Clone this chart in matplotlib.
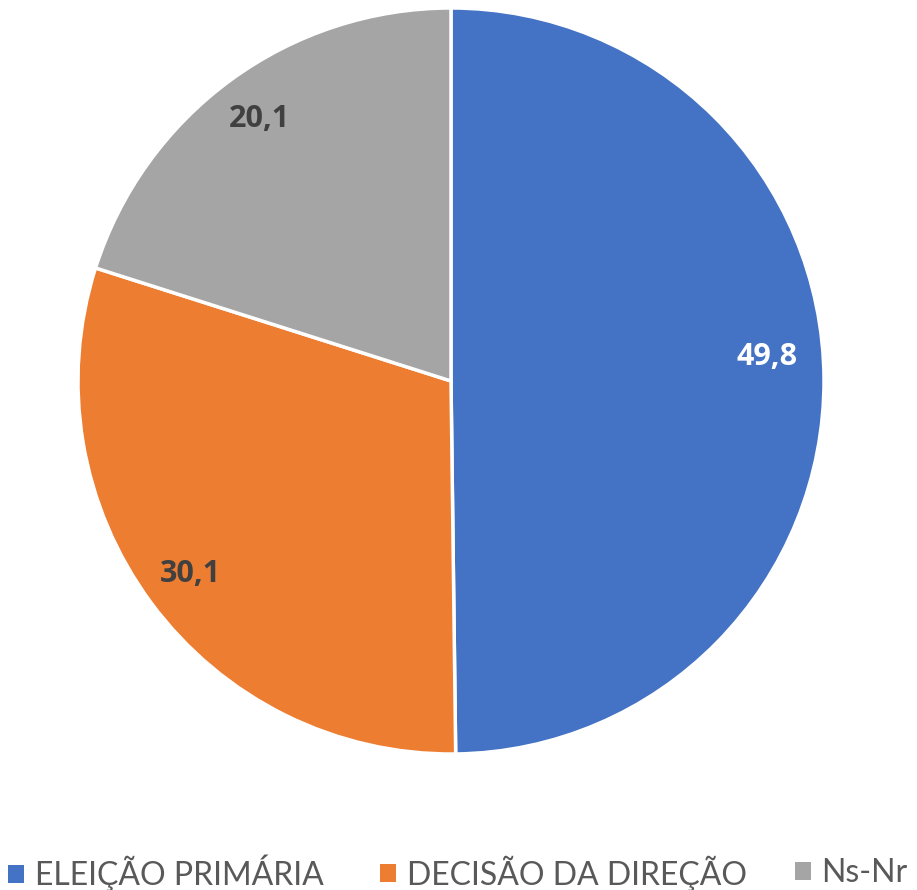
import matplotlib
matplotlib.use("Agg")
import matplotlib.pyplot as plt
from matplotlib.patches import Patch

categories = ["ELEIÇÃO PRIMÁRIA", "DECISÃO DA DIREÇÃO", "Ns-Nr"]
values = [49.8, 30.1, 20.1]
value_labels = ["49,8", "30,1", "20,1"]
colors = ["#4472C4", "#ED7D31", "#A5A5A5"]
label_colors = ["white", "#404040", "#404040"]

W, H = 917, 890
fig = plt.figure(figsize=(W / 100, H / 100), dpi=100)
ax = fig.add_axes([0, 0, 1, 1])

cx, cy, r = 451, H - 381, 373
wedges, texts, autotexts = ax.pie(
    values, colors=colors, startangle=90, counterclock=False,
    center=(cx, cy), radius=r, frame=True,
    wedgeprops=dict(edgecolor="white", linewidth=2.5),
    autopct=lambda p: "", pctdistance=0.87,
)
ax.set_xlim(0, W)
ax.set_ylim(0, H)
ax.axis("off")
for t, lab, c in zip(autotexts, value_labels, label_colors):
    t.set_text(lab)
    t.set_color(c)
    t.set_fontsize(22)
    t.set_fontweight("bold")
    t.set_family(["Open Sans", "Lato"])
autotexts[0].set_position((cx + 316, cy + 24))

# legend: one entry per anchor (left edge of marker, in figure fraction)
legend_x = [8, 380, 795]
for c, lab, x in zip(colors, categories, legend_x):
    fig.legend([Patch(facecolor=c, edgecolor="none")], [lab],
               loc="center left", bbox_to_anchor=(x / W, 1 - 873 / H),
               frameon=False, borderaxespad=0, borderpad=0,
               prop={"family": "Lato", "size": 23},
               handlelength=0.5, handleheight=0.5, handletextpad=0.33,
               labelcolor="#595959")
fig.savefig("out.png", dpi=100)
